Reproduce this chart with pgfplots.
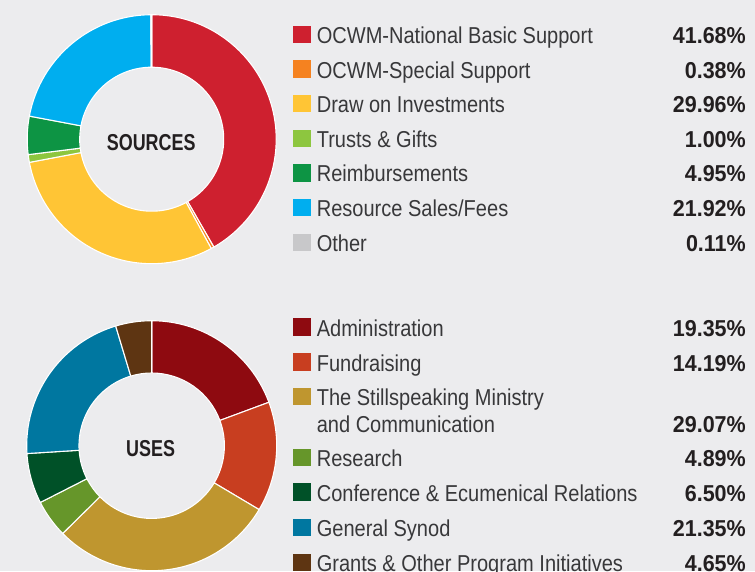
\documentclass[border=0pt]{standalone}
\usepackage{fontspec}
\setmainfont{Liberation Sans}[FakeStretch=0.871]
\newfontfamily\pctfont{Liberation Sans}[FakeStretch=0.935]
\newfontfamily\titfont{Liberation Sans}[FakeStretch=0.78]
\usepackage{pgfplots}
\usepackage{pgfplotstable}
\pgfplotsset{compat=1.18}

\definecolor{bg}{HTML}{ECECEE}
\definecolor{txt}{HTML}{38383A}
\definecolor{txtb}{HTML}{231F20}
\definecolor{sA}{HTML}{CE202F}
\definecolor{sB}{HTML}{F58220}
\definecolor{sC}{HTML}{FFC535}
\definecolor{sD}{HTML}{8DC63F}
\definecolor{sE}{HTML}{0D9444}
\definecolor{sF}{HTML}{00AEEF}
\definecolor{sG}{HTML}{C8C8CA}
\definecolor{uA}{HTML}{8E0A10}
\definecolor{uB}{HTML}{C83E20}
\definecolor{uC}{HTML}{BF962F}
\definecolor{uD}{HTML}{66962A}
\definecolor{uE}{HTML}{005128}
\definecolor{uF}{HTML}{0077A0}
\definecolor{uG}{HTML}{5E3512}

\pgfplotstableread{
value color
41.68 sA
0.38 sB
29.96 sC
1.00 sD
4.95 sE
21.92 sF
0.11 sG
}\sources

\pgfplotstableread{
value color
19.35 uA
14.19 uB
29.07 uC
4.89 uD
6.50 uE
21.35 uF
4.65 uG
}\uses

% #1 table, #2 cx, #3 cy, #4 outer radius, #5 inner radius
\newcommand\donut[5]{%
  \xdef\acc{90}%
  \foreach \i in {0,...,6}{%
    \pgfplotstablegetelem{\i}{value}\of#1\let\sliceval\pgfplotsretval
    \pgfplotstablegetelem{\i}{color}\of#1\let\slicecol\pgfplotsretval
    \pgfmathsetmacro\aend{\acc-3.6*\sliceval}%
    \path[fill=\slicecol, draw=white, line width=1.1pt, line join=round,
          shift={(axis cs:#2,#3)}]
      (canvas polar cs:angle=\acc,radius=#4pt)
        arc[start angle=\acc,end angle=\aend,radius=#4pt]
      -- (canvas polar cs:angle=\aend,radius=#5pt)
        arc[start angle=\aend,end angle=\acc,radius=#5pt] -- cycle;
    \xdef\acc{\aend}%
  }%
}

% #1 baseline y, #2 colour, #3 label, #4 percentage
\newcommand\legrow[4]{%
  \fill[#2] (axis cs:292.7,{#1-17.6}) rectangle (axis cs:311,{#1-0.3});
  \node[anchor=base west, inner sep=0pt, text=txt,
        font=\fontsize{23}{26}\selectfont] at (axis cs:316.6,#1) {#3};
  \node[anchor=base east, inner sep=0pt, text=txtb,
        font=\fontsize{23}{26}\selectfont\pctfont\bfseries] at (axis cs:746,#1) {#4};
}

\begin{document}
\begin{tikzpicture}
\begin{axis}[x=1pt, y=1pt, xmin=0, xmax=755, ymin=0, ymax=571,
  y dir=reverse, hide axis, clip=false, at={(0,0)}, anchor=south west]
\pgfplotsextra{
  \fill[bg] (axis cs:0,0) rectangle (axis cs:755,571);
  \donut{\sources}{151.7}{139.2}{124.5}{72}
  \donut{\uses}{151.7}{445.7}{125}{72.7}
  \node[anchor=base, inner sep=0pt, text=txtb,
        font=\fontsize{23}{26}\selectfont\titfont\bfseries] at (axis cs:151.2,150.7) {SOURCES};
  \node[anchor=base, inner sep=0pt, text=txtb,
        font=\fontsize{23}{26}\selectfont\titfont\bfseries] at (axis cs:150.6,456.7) {USES};
  \legrow{43.3}{sA}{OCWM-National Basic Support}{41.68\%}
  \legrow{78}{sB}{OCWM-Special Support}{0.38\%}
  \legrow{112.6}{sC}{Draw on Investments}{29.96\%}
  \legrow{147.3}{sD}{Trusts \& Gifts}{1.00\%}
  \legrow{181.9}{sE}{Reimbursements}{4.95\%}
  \legrow{216.6}{sF}{Resource Sales/Fees}{21.92\%}
  \legrow{251.2}{sG}{Other}{0.11\%}
  \legrow{336}{uA}{Administration}{19.35\%}
  \legrow{371}{uB}{Fundraising}{14.19\%}
  \legrow{405.7}{uC}{The Stillspeaking Ministry}{}
  \node[anchor=base west, inner sep=0pt, text=txt,
        font=\fontsize{23}{26}\selectfont] at (axis cs:316.6,432.3) {and Communication};
  \node[anchor=base east, inner sep=0pt, text=txtb,
        font=\fontsize{23}{26}\selectfont\pctfont\bfseries] at (axis cs:746,432.3) {29.07\%};
  \legrow{466.7}{uD}{Research}{4.89\%}
  \legrow{501}{uE}{Conference \& Ecumenical Relations}{6.50\%}
  \legrow{536.7}{uF}{General Synod}{21.35\%}
  \legrow{571.7}{uG}{Grants \& Other Program Initiatives}{4.65\%}
}
\end{axis}
\pgfresetboundingbox
\useasboundingbox (0,0) rectangle (755pt,571pt);
\end{tikzpicture}
\end{document}
